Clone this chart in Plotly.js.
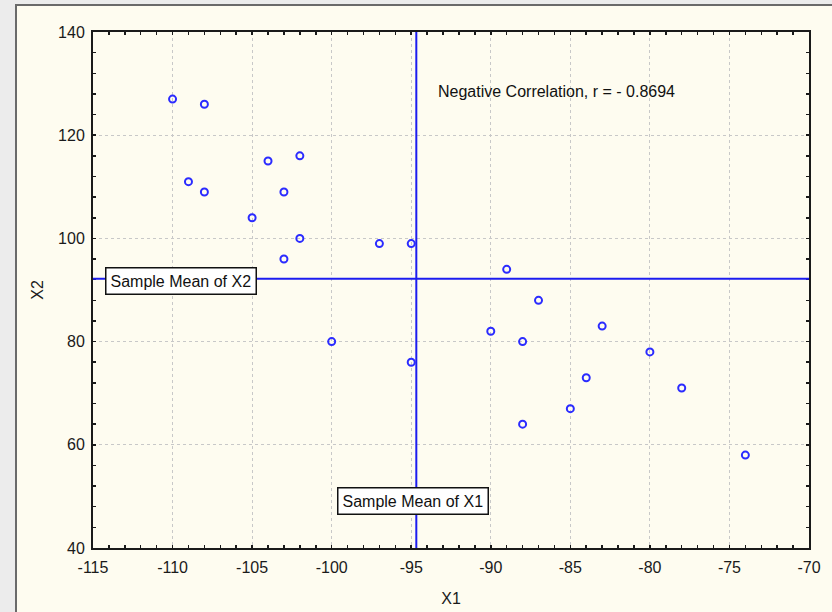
<!DOCTYPE html>
<html>
<head>
<meta charset="utf-8">
<script src="https://cdn.plot.ly/plotly-3.0.1.min.js"></script>
<style>
html,body{margin:0;padding:0;background:#ececec;}
#chart{width:832px;height:612px;}
</style>
</head>
<body>
<div id="chart"></div>
<script>
// Data
const x1Values = [-110, -108, -109, -108, -104, -102, -103, -105, -102, -103, -100, -97, -95, -95, -89, -90, -87, -88, -83, -84, -85, -88, -80, -78, -74];
const x2Values = [127, 126, 111, 109, 115, 116, 109, 104, 100, 96, 80, 99, 99, 76, 94, 82, 88, 80, 83, 73, 67, 64, 78, 71, 58];
const xTickValues = [-115, -110, -105, -100, -95, -90, -85, -80, -75, -70];
const yTickValues = [40, 60, 80, 100, 120, 140];
const correlationText = 'Negative Correlation, r = - 0.8694';
const meanX1Label = 'Sample Mean of X1';
const meanX2Label = 'Sample Mean of X2';

const mean = a => a.reduce((s, v) => s + v, 0) / a.length;
const meanX1 = mean(x1Values);
const meanX2 = mean(x2Values);

const FONT = 'Liberation Sans, Arial, sans-serif';
const L = 93, R = 23, T = 32, B = 64, W = 832, H = 612;
const pw = W - L - R, ph = H - T - B;
const px = v => (v - L) / pw;
const py = v => (H - B - v) / ph;

const trace = {
  type: 'scatter', mode: 'markers',
  x: x1Values, y: x2Values,
  marker: {symbol: 'circle-open', size: 7, color: '#2b2bff', line: {width: 2, color: '#2b2bff'}},
  hoverinfo: 'skip'
};

const axisCommon = {
  showline: true, linecolor: '#1a1a1a', linewidth: 2, mirror: 'ticks',
  ticks: 'inside', ticklen: 3, tickwidth: 1.5, tickcolor: '#1a1a1a',
  showgrid: true, gridcolor: '#c8c8c8', griddash: 'dot', gridwidth: 1,
  zeroline: false,
  tickfont: {family: FONT, size: 16, color: '#1a1a1a'}
};

const layout = {
  width: W, height: H,
  margin: {l: L, r: R, t: T, b: B, pad: 0},
  paper_bgcolor: '#ececec',
  plot_bgcolor: '#ffffff',
  showlegend: false,
  xaxis: Object.assign({}, axisCommon, {
    range: [-115, -70], tickmode: 'array', tickvals: xTickValues,
    ticktext: xTickValues.map(v => String(v)),
    ticklabelstandoff: 4,
    minor: {ticks: 'inside', dtick: 1, tick0: -115, ticklen: 3, tickcolor: '#1a1a1a', tickwidth: 1.5, showgrid: false},
    title: {text: 'X1', font: {family: FONT, size: 16, color: '#1a1a1a'}, standoff: 18}
  }),
  yaxis: Object.assign({}, axisCommon, {
    range: [40, 140], tickmode: 'array', tickvals: yTickValues,
    ticktext: yTickValues.map(v => String(v)),
    ticklabelstandoff: 3,
    minor: {ticks: 'inside', dtick: 4, tick0: 40, ticklen: 3, tickcolor: '#1a1a1a', tickwidth: 1.5, showgrid: false},
    title: {text: 'X2', font: {family: FONT, size: 16, color: '#1a1a1a'}, standoff: 10}
  }),
  shapes: [
    {type: 'rect', xref: 'paper', yref: 'paper', layer: 'below',
     x0: px(16), x1: px(845), y0: py(625), y1: py(5),
     fillcolor: '#fefcf0', line: {color: '#6a6a6a', width: 2}},
    {type: 'line', xref: 'x', yref: 'paper', x0: meanX1, x1: meanX1, y0: 0, y1: 1,
     line: {color: '#1c1cf0', width: 2}},
    {type: 'line', xref: 'paper', yref: 'y', x0: 0, x1: 1, y0: meanX2, y1: meanX2,
     line: {color: '#1c1cf0', width: 2}}
  ],
  annotations: [
    {xref: 'x', yref: 'y', x: -93.45, y: 128.4, xanchor: 'left', yanchor: 'middle',
     text: correlationText, showarrow: false,
     font: {family: FONT, size: 16, color: '#111'}},
    {xref: 'x', yref: 'y', x: -109.45, y: meanX2 - 0.5, xanchor: 'center', yanchor: 'middle',
     text: meanX2Label, showarrow: false, bgcolor: '#ffffff', bordercolor: '#111', borderwidth: 1.5, borderpad: 4,
     font: {family: FONT, size: 16, color: '#111'}},
    {xref: 'x', yref: 'y', x: meanX1 - 0.2, y: 49.1, xanchor: 'center', yanchor: 'middle',
     text: meanX1Label, showarrow: false, bgcolor: '#ffffff', bordercolor: '#111', borderwidth: 1.5, borderpad: 4,
     font: {family: FONT, size: 16, color: '#111'}}
  ]
};

Plotly.newPlot('chart', [trace], layout, {staticPlot: true, displayModeBar: false});
</script>
</body>
</html>
